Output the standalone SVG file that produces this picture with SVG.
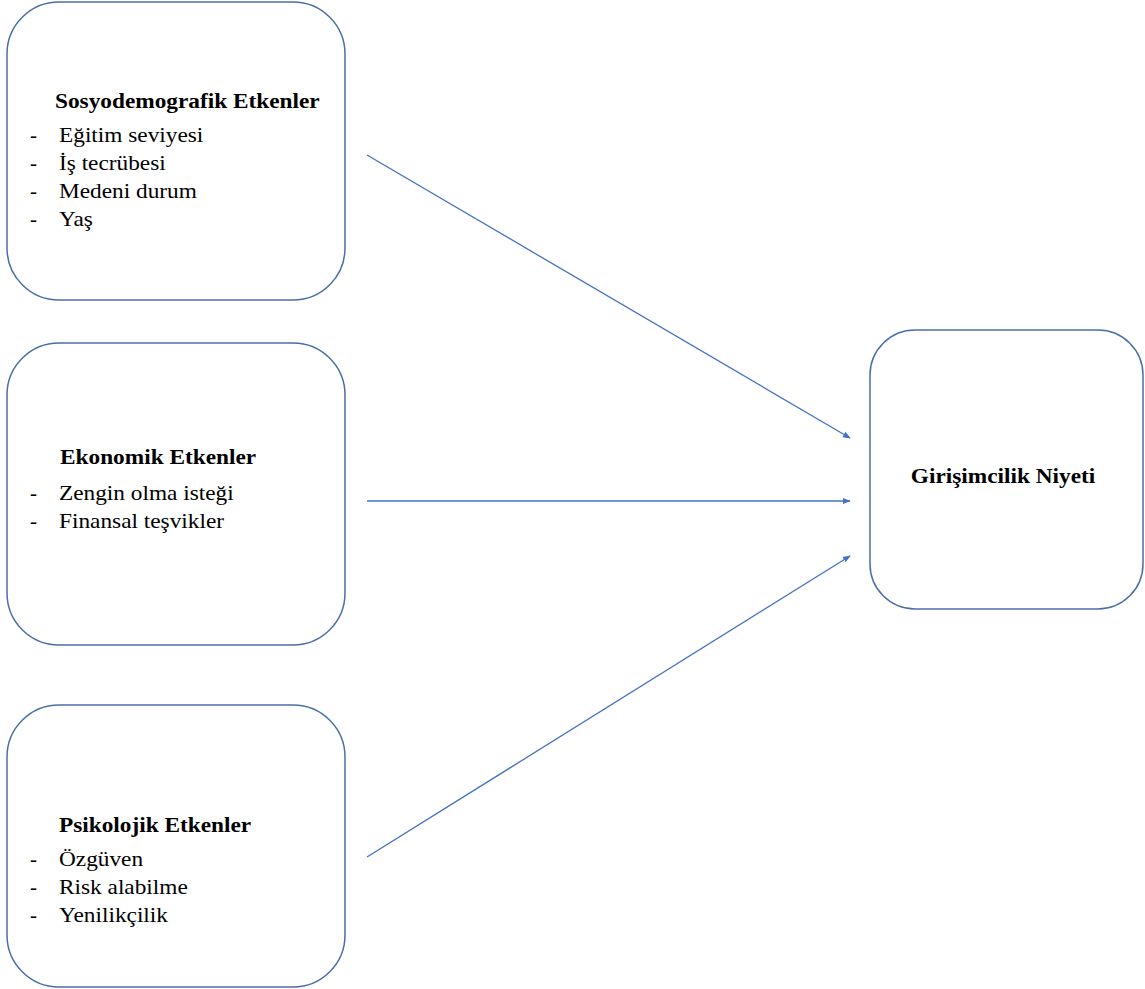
<svg xmlns="http://www.w3.org/2000/svg" width="1145" height="989" viewBox="0 0 1145 989">
<style>
.box{fill:#fff;stroke:#4a6fa8;stroke-width:1.5}
.t{font-family:'Liberation Serif','DejaVu Serif',serif;font-size:21px;fill:#000}
.b{font-weight:bold}
.c{fill:none;stroke:#4472c4;stroke-width:1.3}
</style>
<defs>
<marker id="ah" viewBox="0 0 10 10" refX="9" refY="5" markerWidth="6" markerHeight="6" orient="auto" markerUnits="strokeWidth">
<path d="M0,1 L10,5 L0,9 Z" fill="#4472c4"/>
</marker>
</defs>
<rect width="1145" height="989" fill="#fff"/>
<g id="connectors">
<line class="c" x1="367" y1="155" x2="850" y2="438" marker-end="url(#ah)"/>
<line class="c" x1="367" y1="501" x2="850" y2="501" marker-end="url(#ah)"/>
<line class="c" x1="367" y1="857" x2="850" y2="556" marker-end="url(#ah)"/>
</g>
<g id="sosyo">
<rect class="box" x="7" y="2" width="338" height="298" rx="52"/>
<text class="t b" transform="translate(55,108) scale(1.11,1)">Sosyodemografik Etkenler</text>
<text class="t" x="30" y="142">-</text><text class="t" transform="translate(59,142) scale(1.11,1)">Eğitim seviyesi</text>
<text class="t" x="30" y="170">-</text><text class="t" transform="translate(59,170) scale(1.11,1)">İş tecrübesi</text>
<text class="t" x="30" y="198">-</text><text class="t" transform="translate(59,198) scale(1.11,1)">Medeni durum</text>
<text class="t" x="30" y="226">-</text><text class="t" transform="translate(59,226) scale(1.11,1)">Yaş</text>
</g>
<g id="ekonomik">
<rect class="box" x="7" y="343" width="338" height="302" rx="52"/>
<text class="t b" transform="translate(60,464) scale(1.11,1)">Ekonomik Etkenler</text>
<text class="t" x="30" y="500">-</text><text class="t" transform="translate(59,500) scale(1.11,1)">Zengin olma isteği</text>
<text class="t" x="30" y="528">-</text><text class="t" transform="translate(59,528) scale(1.11,1)">Finansal teşvikler</text>
</g>
<g id="psikolojik">
<rect class="box" x="7" y="705" width="338" height="282" rx="52"/>
<text class="t b" transform="translate(59,832) scale(1.11,1)">Psikolojik Etkenler</text>
<text class="t" x="30" y="866">-</text><text class="t" transform="translate(59,866) scale(1.11,1)">Özgüven</text>
<text class="t" x="30" y="894">-</text><text class="t" transform="translate(59,894) scale(1.11,1)">Risk alabilme</text>
<text class="t" x="30" y="922">-</text><text class="t" transform="translate(59,922) scale(1.11,1)">Yenilikçilik</text>
</g>
<g id="niyet">
<rect class="box" x="870" y="330" width="273" height="279" rx="45"/>
<text class="t b" text-anchor="middle" transform="translate(1003,483) scale(1.11,1)">Girişimcilik Niyeti</text>
</g>
</svg>
